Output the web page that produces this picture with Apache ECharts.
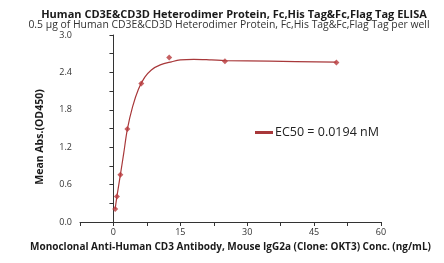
<!DOCTYPE html>
<html>
<head>
<meta charset="utf-8">
<script src="https://cdn.jsdelivr.net/npm/echarts@6/dist/echarts.min.js"></script>
<style>html,body{margin:0;padding:0;background:#fff}#c{width:444px;height:263px}</style>
</head>
<body>
<div id="c"></div>
<script>
var concentrations = [0.39, 0.78, 1.56, 3.125, 6.25, 12.5, 25, 50];
var absorbance = [0.21, 0.41, 0.76, 1.49, 2.22, 2.64, 2.58, 2.56];
var curveX = [0.39, 0.78, 1.56, 2.3, 3.125, 4.3, 5.6, 7, 8.5, 10.5, 13, 15, 18, 22, 25, 35, 50];
var curveY = [0.21, 0.41, 0.76, 1.1, 1.49, 1.85, 2.13, 2.32, 2.44, 2.52, 2.57, 2.60, 2.61, 2.60, 2.59, 2.58, 2.565];
var xTicks = [0, 15, 30, 45, 60];
var yTicks = [0.0, 0.6, 1.2, 1.8, 2.4, 3.0];
var titleText = 'Human CD3E&CD3D Heterodimer Protein, Fc,His Tag&Fc,Flag Tag ELISA';
var subtitleText = '0.5 \u00b5g of Human CD3E&CD3D Heterodimer Protein, Fc,His Tag&Fc,Flag Tag per well';
var xName = 'Monoclonal Anti-Human CD3 Antibody, Mouse IgG2a (Clone: OKT3) Conc. (ng/mL)';
var yName = 'Mean Abs.(OD450)';
var seriesName = 'EC50 = 0.0194 nM';

var font = '"Open Sans", "Liberation Sans", sans-serif';
var chart = echarts.init(document.getElementById('c'), null, {renderer: 'canvas'});
var curveData = curveX.map(function (x, i) { return [x, curveY[i]]; });
var pointData = concentrations.map(function (x, i) { return [x, absorbance[i]]; });

chart.setOption({
  animation: false,
  backgroundColor: '#fff',
  title: [
    {text: titleText, left: 229, top: 4, textAlign: 'center',
     textStyle: {fontFamily: font, fontSize: 11, fontWeight: 'bold', color: '#1a1a1a'}},
    {text: subtitleText, left: 224, top: 15, textAlign: 'center',
     textStyle: {fontFamily: font, fontSize: 10.4, fontWeight: 'normal', color: '#333'}}
  ],
  legend: {
    left: 250, top: 121, itemWidth: 18, itemHeight: 3, itemGap: 2,
    icon: 'rect',
    data: [{name: seriesName}],
    textStyle: {fontFamily: font, fontSize: 12.5, color: '#222', padding: [0, 0, 0, -3]}
  },
  grid: {left: 80, right: 63, top: 35, bottom: 41, containLabel: false},
  xAxis: {
    type: 'value', min: -7.5, max: 60, interval: 7.5,
    name: xName, nameLocation: 'middle', nameGap: 20,
    nameTextStyle: {fontFamily: font, fontSize: 10, fontWeight: 'bold', color: '#1a1a1a'},
    axisLine: {lineStyle: {color: '#333', width: 1}},
    axisTick: {show: true, inside: false, length: 4, lineStyle: {color: '#333'}},
    axisLabel: {fontFamily: font, fontSize: 9, color: '#333', margin: 6,
      formatter: function (v) { return xTicks.indexOf(v) >= 0 ? String(v) : ''; }},
    splitLine: {show: false}
  },
  yAxis: {
    type: 'value', min: 0, max: 3, interval: 0.6,
    axisLine: {show: true, lineStyle: {color: '#333', width: 1}},
    axisTick: {show: true, inside: false, length: 4, lineStyle: {color: '#333'}},
    minorTick: {show: true, splitNumber: 2, length: 4, lineStyle: {color: '#333'}},
    axisLabel: {fontFamily: font, fontSize: 9, color: '#333', margin: 8,
      formatter: function (v) { return v.toFixed(1); }},
    splitLine: {show: false}
  },
  graphic: [{
    type: 'text', x: 40, y: 137, rotation: Math.PI / 2,
    style: {text: yName, fontFamily: font, fontSize: 10.5, fontWeight: 'bold', fill: '#1a1a1a',
      textAlign: 'center', textVerticalAlign: 'middle'}
  }],
  series: [
    {name: seriesName, type: 'line', data: curveData, smooth: 0.35, showSymbol: false,
     symbol: 'none', lineStyle: {color: '#a8383a', width: 1.2}, itemStyle: {color: '#a8383a'}, z: 2},
    {name: 'points', type: 'scatter', data: pointData, symbol: 'diamond', symbolSize: 6,
     itemStyle: {color: '#b83a3c'}, z: 3}
  ]
});
</script>
</body>
</html>
